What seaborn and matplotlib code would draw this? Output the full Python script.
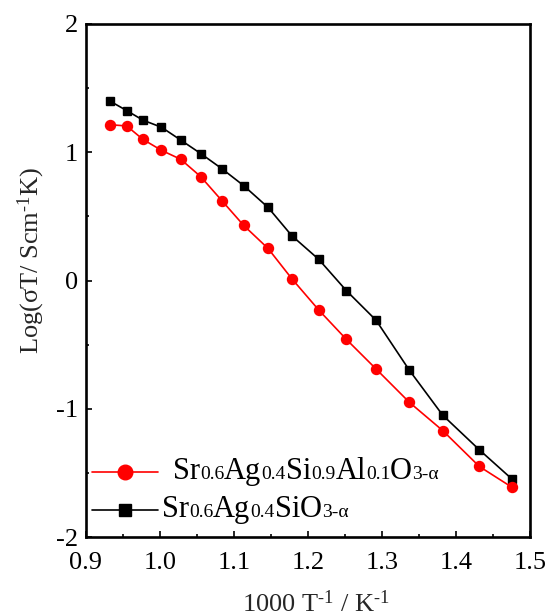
import matplotlib
matplotlib.use("Agg")
import numpy as np
import pandas as pd
import seaborn as sns
import matplotlib.pyplot as plt
from matplotlib.ticker import MultipleLocator, FormatStrFormatter
from matplotlib.offsetbox import TextArea, HPacker, DrawingArea, AnchoredOffsetbox
from matplotlib.lines import Line2D

# ---------------- data ----------------
inv_T = [0.932, 0.955, 0.977, 1.002, 1.028, 1.055, 1.084, 1.113, 1.146,
         1.178, 1.2145, 1.252, 1.292, 1.337, 1.382, 1.4315, 1.475]
log_al = [1.215, 1.205, 1.10, 1.015, 0.945, 0.81, 0.62, 0.43, 0.25,
          0.015, -0.23, -0.46, -0.69, -0.95, -1.17, -1.45, -1.61]
log_pure = [1.40, 1.325, 1.25, 1.195, 1.095, 0.99, 0.87, 0.74, 0.57,
            0.35, 0.165, -0.08, -0.31, -0.70, -1.05, -1.32, -1.545]

x_ticks = [0.9, 1.0, 1.1, 1.2, 1.3, 1.4, 1.5]
y_ticks = [-2, -1, 0, 1, 2]

# legend labels as (text, is_subscript) pieces
label_al = [("Sr", 0), ("0.6", 1), ("Ag", 0), ("0.4", 1), ("Si", 0), ("0.9", 1),
            ("Al", 0), ("0.1", 1), ("O", 0), ("3-\u03b1", 1)]
label_pure = [("Sr", 0), ("0.6", 1), ("Ag", 0), ("0.4", 1), ("Si", 0),
              ("O", 0), ("3-\u03b1", 1)]

HY = "\u2010"  # short hyphen for superscripts
x_label = "1000 T$^{" + HY + "1}$ / K$^{" + HY + "1}$"
y_label = "Log(\u03c3T/ Scm$^{" + HY + "1}$K)"

# ---------------- style ----------------
sns.set_style("ticks")
plt.rcParams["font.family"] = ["Liberation Serif", "DejaVu Serif"]
plt.rcParams["mathtext.default"] = "regular"
plt.rcParams["axes.unicode_minus"] = False

fig = plt.figure(figsize=(5.48, 6.11), dpi=100)
ax = fig.add_axes([86 / 548, 74 / 611, 444 / 548, 513 / 611])

df = pd.DataFrame({"x": inv_T, "al": log_al, "pure": log_pure})

sns.lineplot(data=df, x="x", y="pure", ax=ax, color="black", lw=1.2,
             marker="s", markersize=6.3, markeredgecolor="black",
             markerfacecolor="black", markeredgewidth=1, legend=False)
sns.lineplot(data=df, x="x", y="al", ax=ax, color="#ff0000", lw=1.2,
             marker="o", markersize=7.2, markeredgecolor="#ff0000",
             markerfacecolor="#ff0000", markeredgewidth=1, legend=False)

ax.set_xlim(0.9, 1.5)
ax.set_ylim(-2, 2)
ax.set_xticks(x_ticks)
ax.set_yticks(y_ticks)
ax.xaxis.set_minor_locator(MultipleLocator(0.05))
ax.yaxis.set_minor_locator(MultipleLocator(0.5))
ax.xaxis.set_major_formatter(FormatStrFormatter("%.1f"))
ax.yaxis.set_major_formatter(FormatStrFormatter("%d"))

for s in ax.spines.values():
    s.set_linewidth(1.9)
    s.set_color("black")
ax.tick_params(which="both", direction="in", top=False, right=False,
               width=1.2, color="black", labelsize=19, labelcolor="black")
ax.tick_params(which="major", length=4.3)
ax.tick_params(which="minor", length=2.2)
ax.tick_params(axis="x", which="major", pad=11)
ax.tick_params(axis="y", which="major", pad=6)

ax.set_xlabel(x_label, fontsize=19, labelpad=12)
ax.xaxis.set_label_coords(0.518, -0.105)
ax.xaxis.label.set_va("top")
ax.set_ylabel(y_label, fontsize=19)
ax.yaxis.set_label_coords(-0.088, 0.54)

# ---------------- legend (baseline-aligned sub-size text) ----------------
BIG, SMALL = 22, 14


def legend_row(pieces, color, marker, ms, gap_pt, x_anchor, y_anchor):
    L = 47.5
    da = DrawingArea(L + gap_pt, 20, 0, 8)
    da.add_artist(Line2D([0, L], [5, 5], color=color, lw=1.2))
    da.add_artist(Line2D([L / 2], [5], marker=marker, ms=ms, color=color,
                         mfc=color, mec=color, mew=1, lw=0))
    kids = [da]
    for txt, sub in pieces:
        kids.append(TextArea(txt, textprops=dict(
            fontsize=SMALL if sub else BIG, color="black",
            family=["Liberation Serif", "DejaVu Serif"])))
    row = HPacker(children=kids, align="baseline", pad=0, sep=0)
    box = AnchoredOffsetbox(loc="lower left", child=row, pad=0, borderpad=0,
                            frameon=False, bbox_to_anchor=(x_anchor, y_anchor),
                            bbox_transform=ax.transAxes)
    ax.add_artist(box)


legend_row(label_al, "#ff0000", "o", 10.5, 11.0, 0.0128, 0.0914)
legend_row(label_pure, "black", "s", 9.0, 3.0, 0.0128, 0.0179)

fig.savefig("out.png", dpi=100)
